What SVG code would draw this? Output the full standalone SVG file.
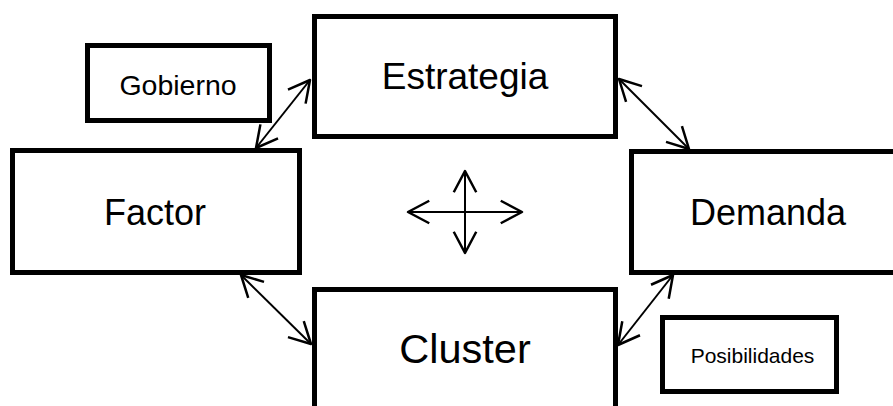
<svg xmlns="http://www.w3.org/2000/svg" width="893" height="406" viewBox="0 0 893 406">
  <style>
    .box { fill: #ffffff; stroke: #000000; stroke-width: 5; }
    .lbl { font-family: "Liberation Sans", Arial, sans-serif; fill: #000000; text-anchor: middle; }
    .link { stroke: #000000; stroke-width: 2; fill: none; marker-start: url(#head); marker-end: url(#head); }
  </style>
  <defs>
    <marker id="head" markerUnits="userSpaceOnUse" markerWidth="30" markerHeight="30" viewBox="-20 -12 24 24" refX="0" refY="0" orient="auto-start-reverse" overflow="visible">
      <path d="M -17 -9 L 0 0 L -17 9" fill="none" stroke="#000000" stroke-width="2" stroke-linejoin="round"/>
    </marker>
  </defs>

  <g id="gobierno">
    <rect class="box" x="87.5" y="45.5" width="182" height="75"/>
    <text class="lbl" x="178" y="95" font-size="28.5">Gobierno</text>
  </g>

  <g id="estrategia">
    <rect class="box" x="314.5" y="16.5" width="301" height="120"/>
    <text class="lbl" x="465" y="89" font-size="37">Estrategia</text>
  </g>

  <g id="factor">
    <rect class="box" x="12.5" y="150.5" width="287" height="122"/>
    <text class="lbl" x="155" y="225" font-size="36">Factor</text>
  </g>

  <g id="demanda">
    <rect class="box" x="631.5" y="151.5" width="280" height="121"/>
    <text class="lbl" x="768" y="225" font-size="36">Demanda</text>
  </g>

  <g id="cluster">
    <rect class="box" x="314.5" y="289.5" width="301" height="140"/>
    <text class="lbl" x="465" y="363" font-size="41.5">Cluster</text>
  </g>

  <g id="posibilidades">
    <rect class="box" x="662.5" y="317.5" width="174" height="74"/>
    <text class="lbl" x="752.5" y="363" font-size="21">Posibilidades</text>
  </g>

  <g id="connectors">
    <line class="link" x1="310" y1="80" x2="256" y2="148"/>
    <line class="link" x1="619" y1="79" x2="689" y2="149"/>
    <line class="link" x1="241" y1="275" x2="311" y2="344"/>
    <line class="link" x1="673" y1="275" x2="618" y2="345"/>
    <line class="link" x1="408" y1="212" x2="522" y2="212"/>
    <line class="link" x1="465" y1="171" x2="465" y2="253"/>
  </g>
</svg>
